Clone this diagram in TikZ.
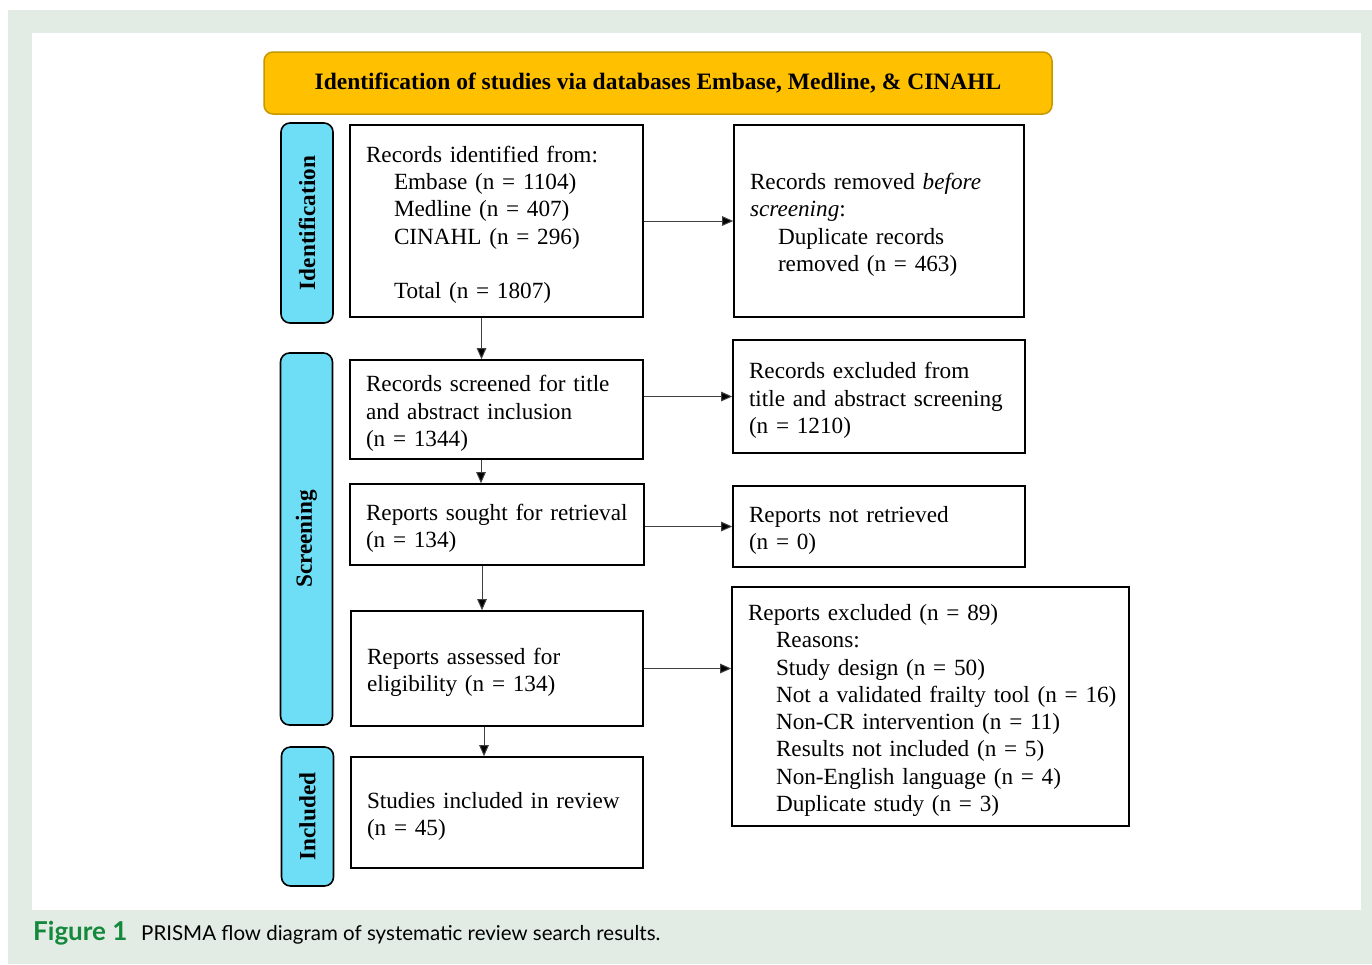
\documentclass[tikz,border=0pt]{standalone}
\usepackage{fontspec}
\setmainfont{Liberation Serif}
\newfontfamily\capfont{Lato}
\usetikzlibrary{arrows.meta}
\definecolor{framegrey}{RGB}{226,236,228}
\definecolor{headgold}{RGB}{255,192,0}
\definecolor{headedge}{RGB}{196,152,0}
\definecolor{sidecyan}{RGB}{110,221,246}
\definecolor{figgreen}{RGB}{20,136,60}
\newcommand{\ind}{\hspace*{28pt}}
\newcommand{\lines}[1]{\begin{tabular}{@{}l@{}}\rule{0pt}{27.2pt}#1\end{tabular}}

\begin{document}
\begin{tikzpicture}[x=1pt,y=-1pt,
    box/.style={draw=black,line width=1.6pt,fill=white,align=left,inner xsep=16pt,inner ysep=0pt,
        font=\fontsize{23.2}{27.3}\selectfont},
    phase/.style={draw=black,line width=1.6pt,fill=sidecyan,rounded corners=9pt,rotate=90,inner sep=0pt,
        minimum height=52pt,font=\bfseries\fontsize{23.2}{27.3}\selectfont},
    flow/.style={draw=black!75,line width=1pt,-{Triangle[length=11pt,width=9.5pt,fill=black]}}]

        \useasboundingbox (0,0) rectangle (1372,964);
        \fill[framegrey] (8,10) rectangle (1372,964);
        \fill[white] (32,33) rectangle (1361,910);

        \node[draw=headedge,fill=headgold,line width=1.5pt,rounded corners=9pt,minimum width=788pt,minimum height=62pt,
            font=\bfseries\fontsize{23.5}{27.3}\selectfont] (head) at (658,83)
            {Identification of studies via databases Embase, Medline, \& CINAHL};

        \node[phase,minimum width=200pt] (ident) at (307,223) {Identification};
        \node[phase,minimum width=372pt] (screen) at (306.5,539) {Screening};
        \node[phase,minimum width=139pt] (incl) at (307.5,816.5) {Included};

        % left column
        \node[box,text width=261pt,minimum height=192pt] (b1) at (496.5,221)
            {\lines{Records identified from:\\ \ind Embase (n = 1104)\\ \ind Medline (n = 407)\\ \ind CINAHL (n = 296)\\[27.3pt] \ind Total (n = 1807)}};
        \node[box,text width=261pt,minimum height=99pt] (b2) at (496.5,409.5)
            {\lines{Records screened for title\\ and abstract inclusion\\ (n = 1344)}};
        \node[box,text width=262pt,minimum height=81pt] (b3) at (497,524.5)
            {\lines{Reports sought for retrieval\\ (n = 134)}};
        \node[box,text width=260pt,minimum height=115pt] (b4) at (497,668.5)
            {\lines{Reports assessed for\\ eligibility (n = 134)}};
        \node[box,text width=260pt,minimum height=111pt] (b5) at (497,812.5)
            {\lines{Studies included in review\\ (n = 45)}};

        % right column
        \node[box,text width=258pt,minimum height=192pt] (r1) at (879,221)
            {\lines{Records removed \textit{before}\\ \textit{screening}:\\ \ind Duplicate records\\ \ind removed (n = 463)}};
        \node[box,text width=260pt,minimum height=113pt] (r2) at (879,396.5)
            {\lines{Records excluded from\\ title and abstract screening\\ (n = 1210)}};
        \node[box,text width=260pt,minimum height=81pt] (r3) at (879,526.5)
            {\lines{Reports not retrieved\\ (n = 0)}};
        \node[box,text width=365pt,minimum height=239pt] (r4) at (930.5,706.5)
            {\lines{Reports excluded (n = 89)\\ \ind Reasons:\\ \ind Study design (n = 50)\\ \ind Not a validated frailty tool (n = 16)\\
             \ind Non-CR intervention (n = 11)\\ \ind Results not included (n = 5)\\ \ind Non-English language (n = 4)\\ \ind Duplicate study (n = 3)}};

        \draw[flow] (b1.east) -- (b1.east -| r1.west);
        \draw[flow] (b2.east |- r2.west) -- (r2.west);
        \draw[flow] (b3.east |- r3.west) -- (r3.west);
        \draw[flow] (b4.east) -- (b4.east -| r4.west);
        \draw[flow] ([xshift=-15pt]b1.south) -- ([xshift=-15pt]b1.south |- b2.north);
        \draw[flow] ([xshift=-15.5pt]b2.south) -- ([xshift=-15.5pt]b2.south |- b3.north);
        \draw[flow] ([xshift=-15pt]b3.south) -- ([xshift=-15pt]b3.south |- b4.north);
        \draw[flow] ([xshift=-13pt]b4.south) -- ([xshift=-13pt]b4.south |- b5.north);

        \node[anchor=base west,inner sep=0pt,text=figgreen,font=\capfont\bfseries\fontsize{26}{28}\selectfont] (fig) at (33,940) {Figure 1};
        \node[anchor=base west,inner sep=0pt,font=\capfont\fontsize{20.5}{24}\selectfont] (cap) at (141,940)
            {PRISMA flow diagram of systematic review search results.};

    \end{tikzpicture}
\end{document}
